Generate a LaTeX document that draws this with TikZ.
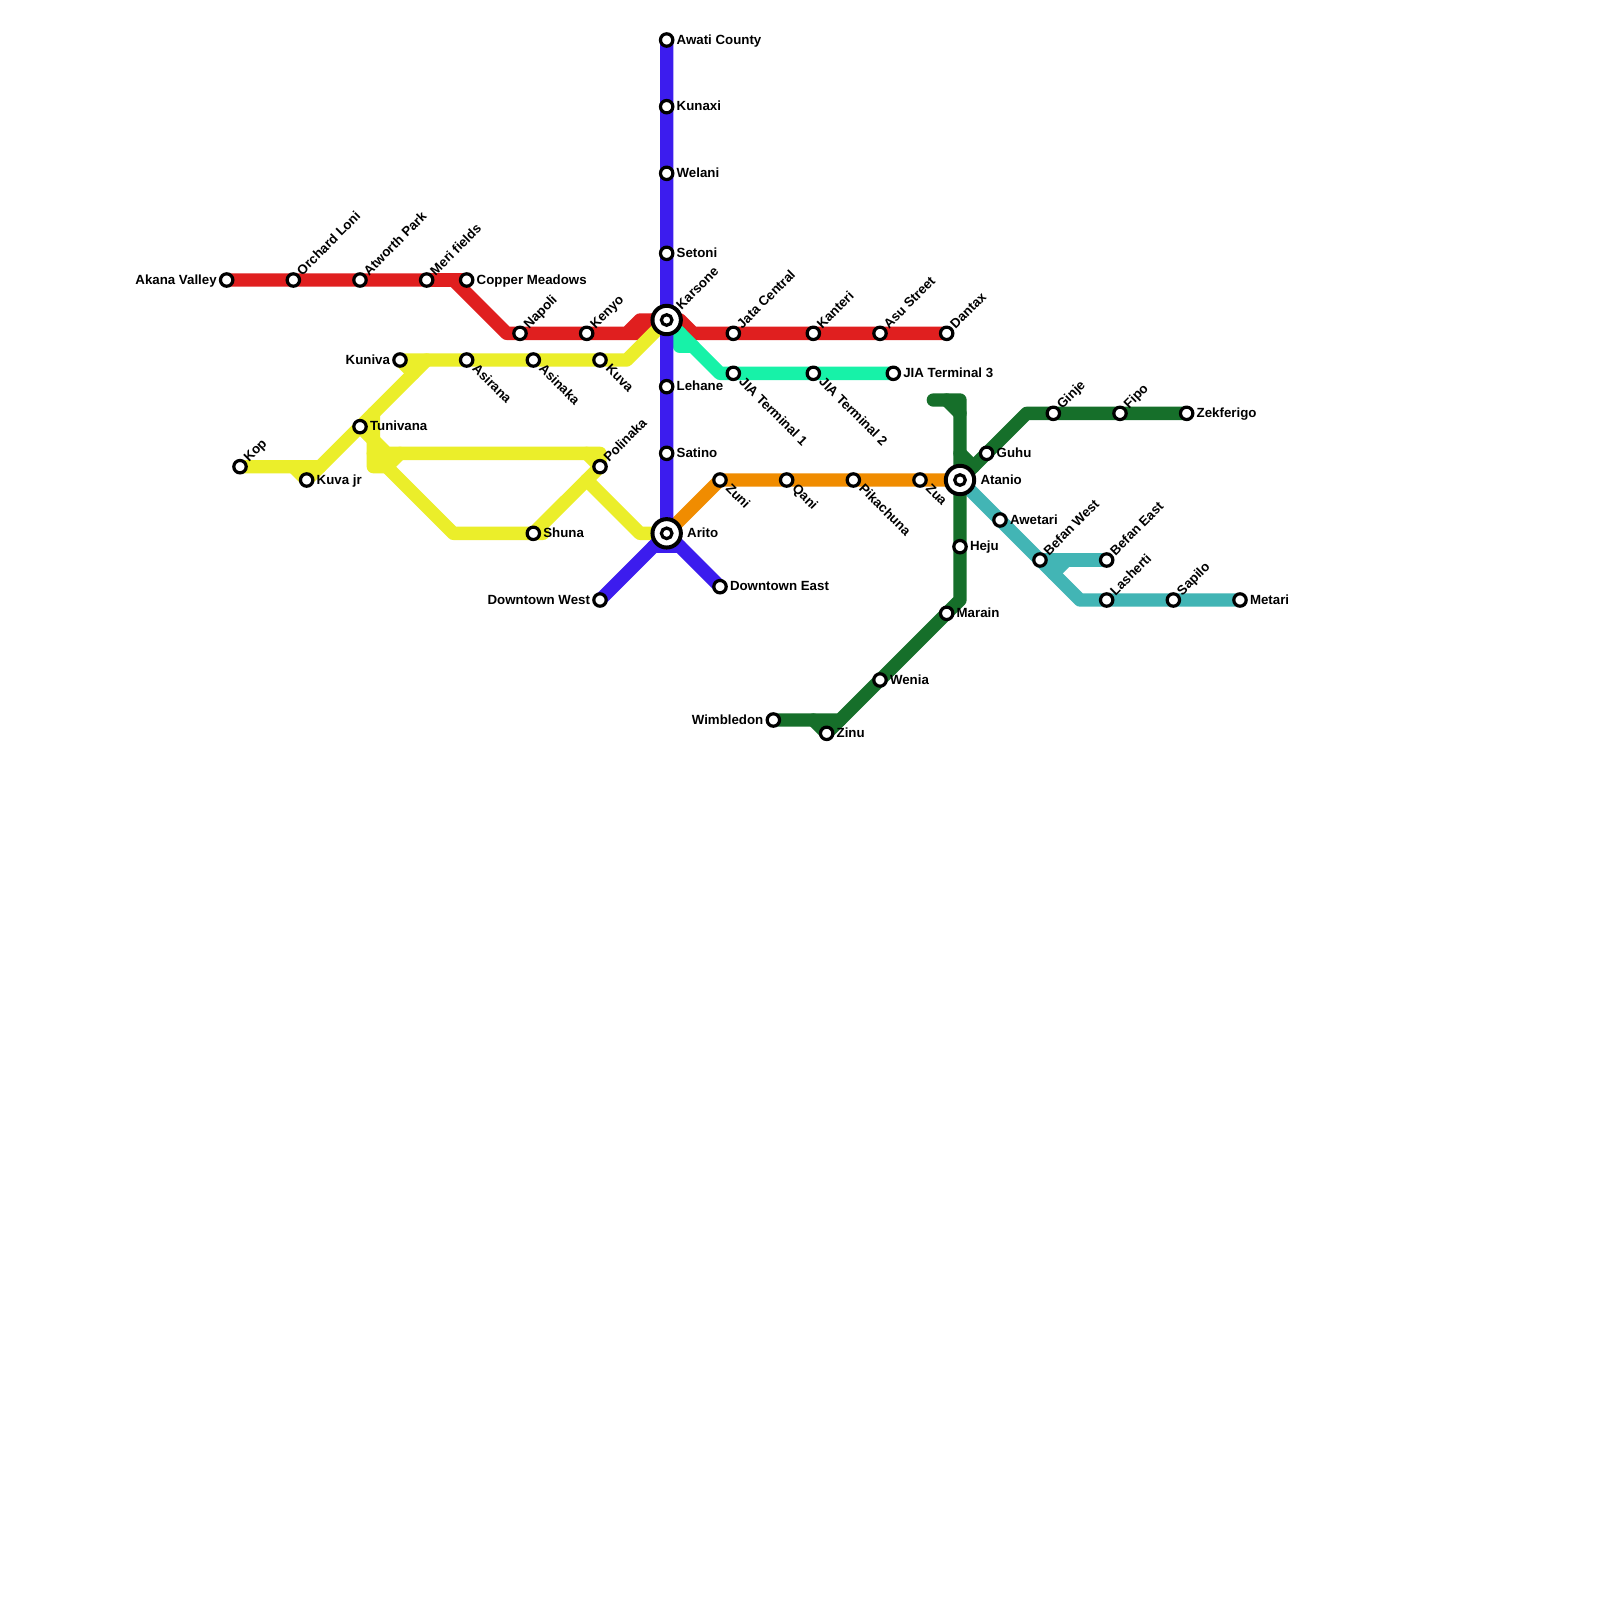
\documentclass[tikz,border=0pt]{standalone}
\usepackage{fontspec}
\setmainfont{Liberation Sans}
\pgfdeclarelayer{lines}
\pgfsetlayers{lines,main}
\definecolor{cRed}{HTML}{E01F1F}
\definecolor{cYel}{HTML}{EBEE2A}
\definecolor{cBlu}{HTML}{3C1CEE}
\definecolor{cMnt}{HTML}{17F2A8}
\definecolor{cOrg}{HTML}{F08C00}
\definecolor{cGrn}{HTML}{166F2A}
\definecolor{cTea}{HTML}{42B5B5}
\tikzset{
 st/.style={circle,draw=black,fill=white,line width=0.08cm,minimum size=0.31cm,inner sep=0pt,outer sep=0pt},
 sti/.style={circle,draw=black,fill=white,line width=0.08cm,minimum size=0.265cm,inner sep=0pt,outer sep=0pt},
 big/.style={circle,draw=black,fill=white,line width=0.1cm,minimum size=0.71cm,inner sep=0pt,outer sep=0pt},
 jn/.style={inner sep=0pt,outer sep=0pt,minimum size=0pt},
 txt/.style={inner sep=0pt,outer sep=0pt,font=\fontsize{9.45pt}{10pt}\selectfont\bfseries,text=black},
 rl/.style={txt,anchor=base west},
 ll/.style={txt,anchor=base east},
 ul/.style={txt,anchor=base west,rotate=45},
 dl/.style={txt,anchor=base west,rotate=-45},
 route/.style={line width=0.3333cm,line cap=round,line join=round}
}
\newcommand\SN[2]{\node[st] (#1) at (#2) {};}
\newcommand\JN[2]{\node[jn] (#1) at (#2) {};}
\newcommand\LR[2]{\node[rl] (#1t) at ([shift={(10,4)}]#1.center) {#2};}
\newcommand\LL[2]{\node[ll] (#1t) at ([shift={(-10,4)}]#1.center) {#2};}
\newcommand\LU[2]{\node[ul] (#1t) at ([shift={(9,-4)}]#1.center) {#2};}
\newcommand\LD[2]{\node[dl] (#1t) at ([shift={(5,9.5)}]#1.center) {#2};}
\begin{document}
\begin{tikzpicture}[x=0.025cm,y=-0.025cm]
\begin{pgfonlayer}{lines}
\fill[white] (0,0) rectangle (1600,1600);
\end{pgfonlayer}
\useasboundingbox (0,0) rectangle (1600,1600);
% stations
\SN{akana}{226.67,280}\SN{orchard}{293.33,280}\SN{atworth}{360,280}\SN{meri}{426.67,280}\SN{copper}{466.67,280}
\SN{napoli}{520,333.33}\SN{kenyo}{586.67,333.33}\SN{jata}{733.33,333.33}\SN{kanteri}{813.33,333.33}\SN{asu}{880,333.33}\SN{dantax}{946.67,333.33}
\SN{kuniva}{400,360}\SN{asirana}{466.67,360}\SN{asinaka}{533.33,360}\SN{kuva}{600,360}
\SN{tunivana}{360,426.67}\SN{kop}{240,466.67}\SN{kuvajr}{306.67,480}\SN{polinaka}{600,466.67}\SN{shuna}{533.33,533.33}
\SN{awati}{666.67,40}\SN{kunaxi}{666.67,106.67}\SN{welani}{666.67,173.33}\SN{setoni}{666.67,253.33}\SN{lehane}{666.67,386.67}\SN{satino}{666.67,453.33}
\SN{dwest}{600,600}\SN{deast}{720,586.67}
\SN{jia1}{733.33,373.33}\SN{jia2}{813.33,373.33}\SN{jia3}{893.33,373.33}
\SN{zuni}{720,480}\SN{qani}{786.67,480}\SN{pika}{853.33,480}\SN{zua}{920,480}
\SN{guhu}{986.67,453.33}\SN{ginje}{1053.33,413.33}\SN{fipo}{1120,413.33}\SN{zek}{1186.67,413.33}
\SN{awetari}{1000,520}\SN{bwest}{1040,560}\SN{beast}{1106.67,560}\SN{lash}{1106.67,600}\SN{sapilo}{1173.33,600}\SN{metari}{1240,600}
\SN{heju}{960,546.67}\SN{marain}{946.67,613.33}\SN{wenia}{880,680}\SN{zinu}{826.67,733.33}\SN{wimb}{773.33,720}
% interchanges
\node[big] (karsone) at (666.67,320) {};
\node[sti] (karsonei) at (karsone.center) {};
\node[big] (arito) at (666.67,533.33) {};
\node[sti] (aritoi) at (arito.center) {};
\node[big] (atanio) at (960,480) {};
\node[sti] (ataniow) at (atanio.center) {};
% junctions
\JN{ja}{453.33,280}\JN{jb}{506.67,333.33}\JN{jc}{626.67,333.33}\JN{jd}{640,320}\JN{je}{640,333.33}\JN{jf}{653.33,320}\JN{jg}{680,320}\JN{jh}{693.33,333.33}
\JN{ya}{626.67,360}\JN{yb}{426.67,360}\JN{yc}{320,466.67}\JN{yd}{413.33,373.33}\JN{ye}{293.33,466.67}
\JN{yf}{373.33,413.33}\JN{yg}{373.33,466.67}\JN{yh}{386.67,466.67}\JN{yi}{400,453.33}\JN{yj}{386.67,453.33}\JN{yk}{600,453.33}\JN{yl}{586.67,453.33}
\JN{ym}{453.33,533.33}\JN{yn}{373.33,453.33}\JN{yo}{543,533.33}\JN{yp}{586.67,480}\JN{yq}{640,533.33}
\JN{ba}{653.33,546.67}\JN{bb}{680,546.67}
\JN{ma}{720,373.33}\JN{mb}{680,333.33}\JN{mc}{680,346.67}\JN{md}{693.33,346.67}
\JN{ga}{933.33,400}\JN{gb}{960,400}\JN{gc}{946.67,400}\JN{gd}{960,413.33}\JN{ge}{960,600}\JN{gf}{840,720}\JN{gg}{813.33,720}
\JN{gh}{960,453.33}\JN{gi}{973.33,466.67}\JN{gj}{1026.67,413.33}
\JN{ta}{1080,600}\JN{tb}{1053.33,573.33}\JN{tc}{1066.67,560}
% routes
\begin{pgfonlayer}{lines}
\draw[route,cRed] (akana.center)--(ja.center)--(jb.center)--(jc.center)--(jd.center)--(karsone.center)--(jg.center)--(jh.center)--(dantax.center);
\draw[route,cRed] (meri.center)--(copper.center);
\draw[route,cRed] (jc.center)--(je.center)--(jf.center);
\draw[route,cMnt] (karsone.center)--(ma.center)--(jia3.center);
\draw[route,cMnt] (mb.center)--(mc.center)--(md.center);
\draw[route,cYel] (kuniva.center)--(ya.center)--(karsone.center);
\draw[route,cYel] (yb.center)--(yc.center)--(kop.center);
\draw[route,cYel] (kuniva.center)--(yd.center);
\draw[route,cYel] (ye.center)--(kuvajr.center)--(yc.center);
\draw[route,cYel] (yf.center)--(yg.center)--(yh.center)--(yi.center);
\draw[route,cYel] (tunivana.center)--(yj.center)--(yk.center)--(polinaka.center);
\draw[route,cYel] (yl.center)--(polinaka.center)--(shuna.center);
\draw[route,cYel] (yn.center)--(ym.center)--(yo.center);
\draw[route,cYel] (yp.center)--(yq.center)--(arito.center);
\draw[route,cOrg] (arito.center)--(zuni.center)--(atanio.center);
\draw[route,cBlu] (awati.center)--(arito.center)--(ba.center)--(dwest.center);
\draw[route,cBlu] (arito.center)--(bb.center)--(deast.center);
\draw[route,cBlu] (ba.center)--(bb.center);
\draw[route,cTea] (atanio.center)--(ta.center)--(metari.center);
\draw[route,cTea] (bwest.center)--(beast.center);
\draw[route,cTea] (tb.center)--(tc.center);
\draw[route,cGrn] (ga.center)--(gb.center)--(ge.center)--(gf.center)--(wimb.center);
\draw[route,cGrn] (gc.center)--(gd.center);
\draw[route,cGrn] (gg.center)--(zinu.center)--(gf.center);
\draw[route,cGrn] (atanio.center)--(gj.center)--(zek.center);
\draw[route,cGrn] (gh.center)--(gi.center);
\end{pgfonlayer}
% labels
\LL{akana}{Akana Valley}\LU{orchard}{Orchard Loni}\LU{atworth}{Atworth Park}\LU{meri}{Meri fields}\LR{copper}{Copper Meadows}
\LU{napoli}{Napoli}\LU{kenyo}{Kenyo}\LU{jata}{Jata Central}\LU{kanteri}{Kanteri}\LU{asu}{Asu Street}\LU{dantax}{Dantax}
\LL{kuniva}{Kuniva}\LD{asirana}{Asirana}\LD{asinaka}{Asinaka}\LD{kuva}{Kuva}
\LR{tunivana}{Tunivana}\LU{kop}{Kop}\LR{kuvajr}{Kuva jr}\LU{polinaka}{Polinaka}\LR{shuna}{Shuna}
\LR{awati}{Awati County}\LR{kunaxi}{Kunaxi}\LR{welani}{Welani}\LR{setoni}{Setoni}\LR{lehane}{Lehane}\LR{satino}{Satino}
\LL{dwest}{Downtown West}\LR{deast}{Downtown East}
\LD{jia1}{JIA Terminal 1}\LD{jia2}{JIA Terminal 2}\LR{jia3}{JIA Terminal 3}
\LD{zuni}{Zuni}\LD{qani}{Qani}\LD{pika}{Pikachuna}\LD{zua}{Zua}
\LR{guhu}{Guhu}\LU{ginje}{Ginje}\LU{fipo}{Fipo}\LR{zek}{Zekferigo}
\LR{awetari}{Awetari}\LU{bwest}{Befan West}\LU{beast}{Befan East}\LU{lash}{Lasherti}\LU{sapilo}{Sapilo}\LR{metari}{Metari}
\LR{heju}{Heju}\LR{marain}{Marain}\LR{wenia}{Wenia}\LR{zinu}{Zinu}\LL{wimb}{Wimbledon}
\node[ul] (karsonet) at ([shift={(15,-10)}]karsone.center) {Karsone};
\node[rl] (aritot) at ([shift={(20.5,4)}]arito.center) {Arito};
\node[rl] (ataniot) at ([shift={(20.5,4)}]atanio.center) {Atanio};
\end{tikzpicture}
\end{document}
